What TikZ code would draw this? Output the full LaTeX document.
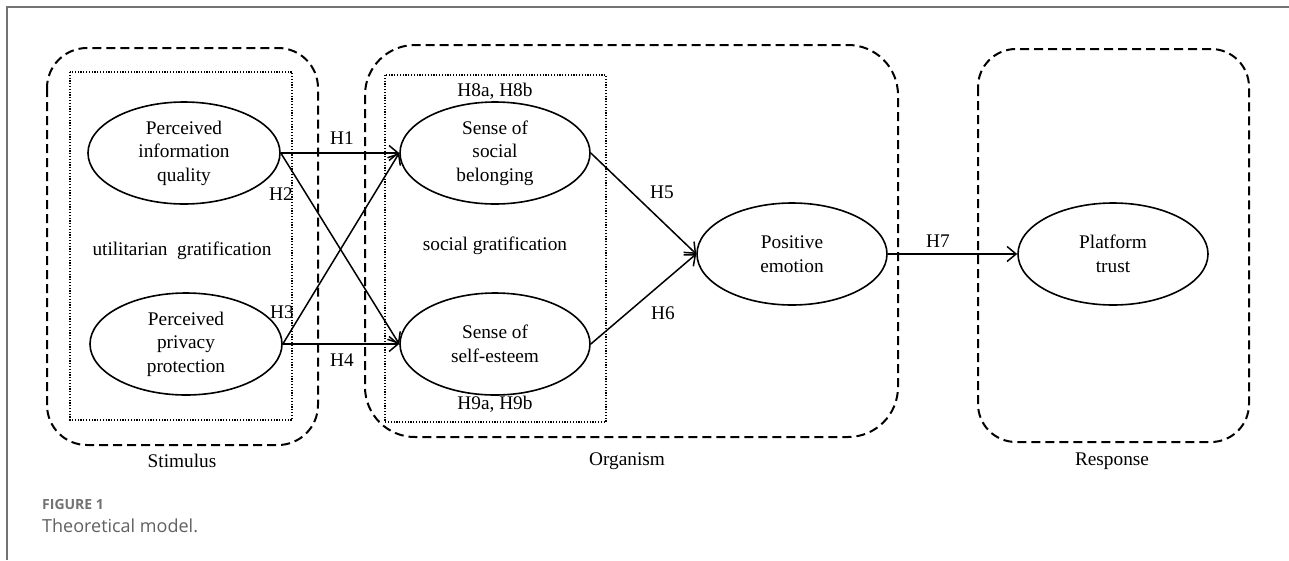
\documentclass[tikz,border=0pt]{standalone}
\usepackage{fontspec}
\setmainfont{Liberation Serif}
\newfontfamily\capfont{Open Sans}
\usetikzlibrary{shapes.geometric,arrows.meta}
\newcommand\dfont{\fontsize{19.3}{23.5}\selectfont}
\begin{document}
\begin{tikzpicture}[x=1pt,y=-1pt,
  ell/.style={draw,ellipse,line width=1.6pt,minimum width=190pt,minimum height=102pt,inner sep=0pt,align=center,font=\dfont},
  lbl/.style={inner sep=0pt,font=\dfont},
  grpbox/.style={draw,line width=2pt,dash pattern=on 9pt off 5pt},
  dotbox/.style={draw,line width=1.3pt,dash pattern=on 1.2pt off 1.6pt},
  arr/.style={line width=1.5pt,-{Straight Barb[length=9pt,width=15pt]}}]
\useasboundingbox (0,0) rectangle (1289,560);
\fill[white] (0,0) rectangle (1289,560);
\draw[black!55,line width=1.2pt] (7,560) -- (7,7) -- (1289,7);
% group boxes
\draw[grpbox,rounded corners=40pt] (47,48) rectangle (318,445);
\draw[grpbox,rounded corners=50pt] (365,45) rectangle (898,437);
\draw[grpbox,rounded corners=38pt] (978,49) rectangle (1249,442);
\draw[dotbox] (70,72) rectangle (292,420);
\draw[dotbox] (385,75) rectangle (606,422);
% ellipses
\node[ell,minimum width=192pt] (piq) at (184,153) {Perceived\\information\\quality};
\node[ell,minimum width=192pt] (ppp) at (186,344) {Perceived\\privacy\\protection};
\node[ell] (ssb) at (495,153) {Sense of\\social\\belonging};
\node[ell] (sse) at (495,344) {Sense of\\self-esteem};
\node[ell] (pe) at (792,254) {Positive\\emotion};
\node[ell] (pt) at (1113,254) {Platform\\trust};
% arrows
\draw[arr] (piq.east) -- (ssb.west);
\draw[arr] (piq.east) -- (sse.west);
\draw[arr] (ppp.east) -- (ssb.west);
\draw[arr] (ppp.east) -- (sse.west);
\draw[arr] (ssb.east) -- (pe.west);
\draw[arr] (sse.east) -- (pe.west);
\draw[arr] (pe.east) -- (pt.west);
% labels
\node[lbl] (h1) at (342,138) {H1};
\node[lbl] (h2) at (281,194) {H2};
\node[lbl] (h3) at (282,312) {H3};
\node[lbl] (h4) at (342,360) {H4};
\node[lbl] (h5) at (662,192) {H5};
\node[lbl] (h6) at (663,313) {H6};
\node[lbl] (h7) at (938,241) {H7};
\node[lbl] (h8) at (495,91) {H8a, H8b};
\node[lbl] (h9) at (495,404) {H9a, H9b};
\node[lbl] (ug) at (182,251) {utilitarian\ \ gratification};
\node[lbl] (sg) at (495,246) {social gratification};
\node[lbl] (stim) at (182,461) {Stimulus};
\node[lbl] (org) at (627,461) {Organism};
\node[lbl] (resp) at (1112,461) {Response};
% caption
\node[anchor=west,inner sep=0pt,font=\capfont\bfseries\fontsize{14}{16}\selectfont,text=black!55] (fig) at (42,504) {FIGURE 1};
\node[anchor=west,inner sep=0pt,font=\capfont\fontsize{18}{20}\selectfont,text=black!62] (cap) at (42,526) {Theoretical model.};
\end{tikzpicture}
\end{document}
